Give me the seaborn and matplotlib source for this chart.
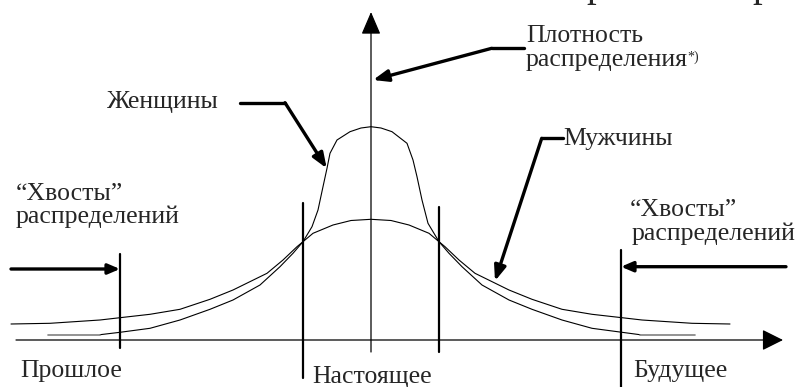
import matplotlib
matplotlib.use("Agg")
import matplotlib.pyplot as plt
import pandas as pd
import seaborn as sns

# Время (0 = настоящее) и плотность распределения
men_x = [-360, -321, -271, -251, -221, -191, -161, -138, -104, -88, -74, -68, -58, -38, -20, 0,
         20, 38, 58, 68, 74, 88, 104, 138, 161, 191, 221, 251, 271, 321, 359]
men_y = [16, 16.7, 20, 22.3, 25.7, 30.7, 40.7, 50, 66.7, 80, 93.3, 98.3, 106.7, 115, 119.5, 120.7,
         119.5, 115, 106.7, 98.3, 93.3, 80, 66.7, 50, 40.7, 30.7, 25.7, 22.3, 20, 16.7, 16]

women_x = [-271, -251, -221, -191, -161, -138, -111, -91, -78, -68, -59, -53, -48, -44, -41, -34, -21, -10, 0,
           10, 21, 36, 42, 46, 51, 57, 68, 78, 91, 111, 138, 161, 191, 221, 251, 269]
women_y = [5.3, 7.7, 11.7, 20, 30.7, 40, 55, 73.3, 86.7, 98.3, 113.3, 130, 153.3, 171.7, 186.7, 200, 208.3, 212, 213.3,
           212, 208.3, 196.7, 180, 163.3, 140, 116.7, 98.3, 86.7, 73.3, 55, 40, 30.7, 20, 11.7, 7.7, 5.3]

# "хвосты" женской кривой (серые)
women_tail_left_x = [-323, -271]
women_tail_right_x = [269, 324]
women_tail_y = [5.3, 5.3]

# границы прошлое / настоящее / будущее
tail_bounds = [-251, 250]
present_bounds = [-68, 68]

FS = 18.5


def strelka(ax, start, tip, lw, hl, hw, ms=10):
    """Стрелка с закрашенным наконечником."""
    ax.annotate("", xy=tip, xytext=start,
                arrowprops=dict(arrowstyle=f"-|>,head_length={hl},head_width={hw}",
                                lw=lw, color="black", shrinkA=0, shrinkB=0,
                                mutation_scale=ms))


sns.set_style("white")
plt.rcParams["font.family"] = ["Liberation Serif", "DejaVu Serif"]

fig = plt.figure(figsize=(8.02, 3.87), dpi=100)
ax = fig.add_axes([0, 0, 1, 1])
ax.set_xlim(-371, 431)
ax.set_ylim(-47, 340)
ax.axis("off")

# кривые
df_men = pd.DataFrame({"t": men_x, "p": men_y})
df_women = pd.DataFrame({"t": women_x, "p": women_y})
sns.lineplot(data=df_men, x="t", y="p", color="black", lw=0.8, sort=False, estimator=None, ax=ax)
sns.lineplot(data=df_women, x="t", y="p", color="black", lw=0.8, sort=False, estimator=None, ax=ax)
for tx in [women_tail_left_x, women_tail_right_x]:
    sns.lineplot(x=tx, y=women_tail_y, color="#808080", lw=1.2, sort=False, estimator=None, ax=ax)

# оси
strelka(ax, (-355, 0), (412, 0), lw=0.9, hl=1.3, hw=0.65)
strelka(ax, (0, -12), (0, 328), lw=0.9, hl=1.4, hw=0.6)

# вертикальные границы
ax.plot([tail_bounds[0]] * 2, [86, -8], color="black", lw=1.6)
ax.plot([tail_bounds[1]] * 2, [90, -47], color="black", lw=1.6)
ax.plot([present_bounds[0]] * 2, [137, -38], color="black", lw=1.6)
ax.plot([present_bounds[1]] * 2, [133, -12], color="black", lw=1.6)

# выноски
ax.plot([-131, -86], [237.3, 237.3], color="black", lw=2.4, solid_capstyle="round")
strelka(ax, (-86, 237.3), (-44.3, 171.7), lw=2.4, hl=0.9, hw=0.35)
ax.plot([153, 120.7], [291.7, 291.7], color="black", lw=2.4, solid_capstyle="round")
strelka(ax, (120.7, 291.7), (2, 260), lw=2.4, hl=0.9, hw=0.35)
ax.plot([192, 170.7], [201.7, 201.7], color="black", lw=2.4, solid_capstyle="round")
strelka(ax, (170.7, 201.7), (124, 59), lw=2.4, hl=0.9, hw=0.35)
strelka(ax, (-360, 71), (-251, 71), lw=2.4, hl=0.7, hw=0.3)
strelka(ax, (415, 73.3), (250, 73.3), lw=2.4, hl=0.7, hw=0.3)

# подписи
ax.text(-264, 232, "Женщины", fontsize=FS, ha="left", va="baseline")
ax.text(155, 298.3, "Плотность", fontsize=FS, ha="left", va="baseline")
ax.text(155, 274, "распределения", fontsize=FS, ha="left", va="baseline")
ax.text(316, 282.5, "*)", fontsize=10, ha="left", va="center")
ax.text(192, 195, "Мужчины", fontsize=FS, ha="left", va="baseline")
ax.text(-355, 140, "“Хвосты”", fontsize=FS, ha="left", va="baseline")
ax.text(-355, 117, "распределений", fontsize=FS, ha="left", va="baseline")
ax.text(259, 124, "“Хвосты”", fontsize=FS, ha="left", va="baseline")
ax.text(260.7, 100, "распределений", fontsize=FS, ha="left", va="baseline")
ax.text(-351, -37, "Прошлое", fontsize=FS, ha="left", va="baseline")
ax.text(-59, -43, "Настоящее", fontsize=FS, ha="left", va="baseline")
ax.text(262, -37, "Будущее", fontsize=FS, ha="left", va="baseline")

# обрезанная строка сверху (видны только хвосты букв)
ax.text(215, 344.4, "р", fontsize=28, ha="left", va="baseline")
ax.text(381, 344.4, "р", fontsize=28, ha="left", va="baseline")

fig.savefig("out.png", dpi=100)
